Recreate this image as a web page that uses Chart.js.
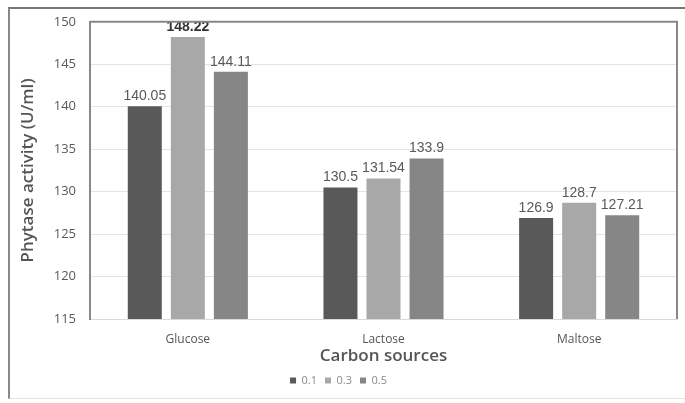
<!DOCTYPE html>
<html>
<head>
<meta charset="utf-8">
<script src="https://cdn.jsdelivr.net/npm/chart.js@4"></script>
<style>
  body { margin: 0; background: #fff; }
  #wrap { position: relative; width: 685px; height: 403px; }
  #frame { position: absolute; left: 8px; top: 7px; right: 0; bottom: 4px;
           border-top: 2px solid #777; border-left: 2px solid #888; border-bottom: 1px solid #e4e4e4; }
  #myChart { position: absolute; left: 0; top: 0; }
</style>
</head>
<body>
<div id="wrap">
  <div id="frame"></div>
  <canvas id="myChart" width="685" height="403"></canvas>
</div>
<script>
// carbon source data
var categories = ["Glucose", "Lactose", "Maltose"];
var seriesNames = ["0.1", "0.3", "0.5"];
var conc01 = [140.05, 130.5, 126.9];
var conc03 = [148.22, 131.54, 128.7];
var conc05 = [144.11, 133.9, 127.21];
var yTicks = [115, 120, 125, 130, 135, 140, 145, 150];
var barColors = ['#595959', '#a8a8a8', '#868686'];

// labels over the bars
var valueLabels = {
    id: 'valueLabels',
    afterDatasetsDraw: function (chart) {
        var ctx = chart.ctx;
        ctx.save();
        ctx.textAlign = 'center';
        ctx.textBaseline = 'bottom';
        chart.data.datasets.forEach(function (ds, i) {
            chart.getDatasetMeta(i).data.forEach(function (bar, j) {
                var v = ds.data[j];
                var top = (i === 1 && j === 0);
                ctx.font = (top ? 'bold ' : '') + '14px "Liberation Sans"';
                ctx.fillStyle = top ? '#333' : '#595959';
                ctx.fillText(String(v), bar.x, bar.y - 3);
            });
        });
        ctx.restore();
    }
};

// top and right edge of the plot box
var plotBox = {
    id: 'plotBox',
    afterDraw: function (chart) {
        var a = chart.chartArea, ctx = chart.ctx;
        ctx.save();
        ctx.strokeStyle = '#888';
        ctx.lineWidth = 2;
        ctx.beginPath();
        ctx.moveTo(a.left, a.top);
        ctx.lineTo(a.right, a.top);
        ctx.lineTo(a.right, a.bottom);
        ctx.stroke();
        ctx.restore();
    }
};

var ctx = document.getElementById('myChart').getContext('2d');
var chart = new Chart(ctx, {
    type: 'bar',
    data: {
        labels: categories,
        datasets: [
            { label: seriesNames[0], data: conc01, backgroundColor: barColors[0] },
            { label: seriesNames[1], data: conc03, backgroundColor: barColors[1] },
            { label: seriesNames[2], data: conc05, backgroundColor: barColors[2] }
        ]
    },
    options: {
        responsive: false,
        animation: false,
        layout: { padding: { left: 0, top: 19, right: 8, bottom: 7 } },
        datasets: { bar: { categoryPercentage: 0.66, barPercentage: 0.79 } },
        plugins: {
            tooltip: { enabled: false },
            legend: {
                position: 'bottom',
                labels: {
                    boxWidth: 6, boxHeight: 6, padding: 8,
                    color: '#8a8a8a',
                    font: { family: 'Open Sans', size: 11 }
                }
            }
        },
        scales: {
            x: {
                grid: { display: false, drawTicks: false },
                border: { color: '#d9d9d9', width: 1 },
                ticks: { padding: 13, color: '#555', font: { family: 'Open Sans', size: 12 } },
                title: {
                    display: true, text: 'Carbon sources', color: '#555',
                    font: { family: 'Open Sans', size: 17, weight: '600' },
                    padding: { top: 0, bottom: 1 }
                },
                afterFit: function (s) { s.height = 48; }
            },
            y: {
                min: 115, max: 150,
                afterBuildTicks: function (s) { s.ticks = yTicks.map(function (v) { return { value: v }; }); },
                grid: { color: '#e4e4e4', drawTicks: false },
                border: { color: '#888', width: 2 },
                ticks: { padding: 14, color: '#595959', font: { family: 'Open Sans', size: 13 } },
                title: {
                    display: true, text: 'Phytase activity (U/ml)', color: '#555',
                    font: { family: 'Open Sans', size: 17, weight: '600' },
                    padding: { top: 18, bottom: 0 }
                },
                afterFit: function (s) { s.width = 90; }
            }
        }
    },
    plugins: [valueLabels, plotBox]
});
</script>
</body>
</html>
